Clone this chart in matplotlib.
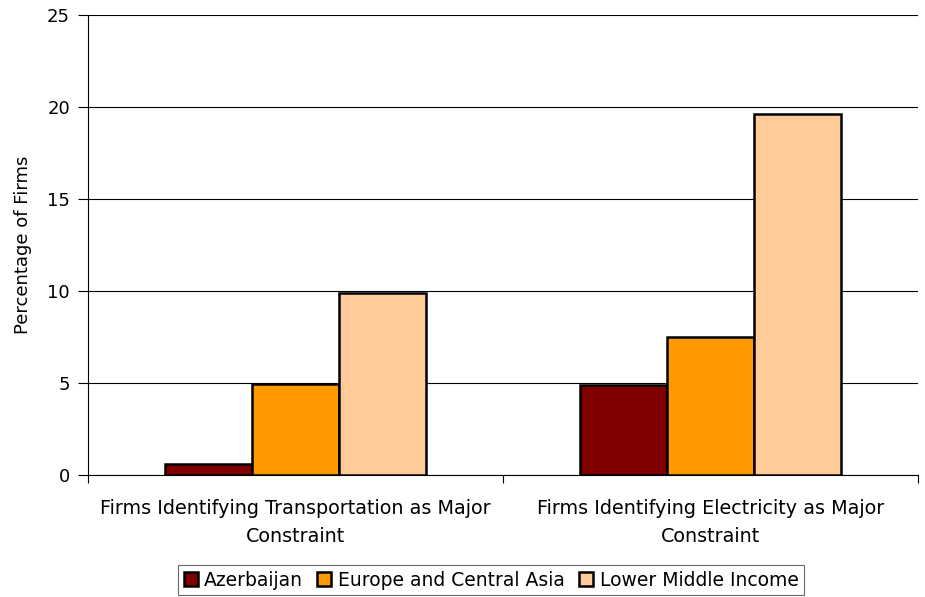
import matplotlib
matplotlib.use("Agg")
import matplotlib.pyplot as plt
import numpy as np

categories = ["Firms Identifying Transportation as Major\nConstraint",
              "Firms Identifying Electricity as Major\nConstraint"]
series = ["Azerbaijan", "Europe and Central Asia", "Lower Middle Income"]
values = {
    "Azerbaijan": [0.6, 4.9],
    "Europe and Central Asia": [4.95, 7.5],
    "Lower Middle Income": [9.9, 19.6],
}
colors = ["#800000", "#FF9900", "#FFCC99"]
yticks = [0, 5, 10, 15, 20, 25]

plt.rcParams['font.family'] = ['DejaVu Sans']

fig = plt.figure(figsize=(9.25, 5.97), dpi=100)
ax = fig.add_axes([88 / 925, 1 - 475 / 597, 830 / 925, 460 / 597])

x = np.arange(len(categories))
width = 0.21
for i, (name, color) in enumerate(zip(series, colors)):
    ax.bar(x + (i - 1) * width, values[name], width, color=color,
           edgecolor="black", linewidth=1.8, label=name, zorder=3)

ax.set_xlim(-0.5, 1.5)
ax.set_ylim(0, 25)
ax.set_yticks(yticks)
ax.tick_params(axis="y", labelsize=13, length=7, pad=6, direction="out", width=0.8)
ax.grid(axis="y", color="black", linewidth=0.8, zorder=0)

ax.set_xticks([-0.5, 0.5, 1.5])
ax.set_xticklabels([])
ax.set_xticks(x, minor=True)
ax.set_xticklabels(categories, minor=True, fontsize=13.8, linespacing=1.65)
ax.tick_params(axis="x", which="major", length=6, width=0.8)
ax.tick_params(axis="x", which="minor", length=0, pad=17)

for s in ["top", "right"]:
    ax.spines[s].set_visible(False)
ax.spines["left"].set_linewidth(0.8)
ax.spines["bottom"].set_linewidth(0.8)

ax.set_ylabel("Percentage of Firms", fontsize=13)
ax.yaxis.set_label_coords(-0.068, 0.5)

leg = fig.legend(loc="lower center", bbox_to_anchor=(491 / 925, 0.0), ncol=3,
                 fontsize=13.5, frameon=True, fancybox=False, handlelength=0.75,
                 handleheight=0.75, handletextpad=0.35, columnspacing=0.75,
                 borderpad=0.3, borderaxespad=0.1)
leg.get_frame().set_edgecolor("#444444")
leg.get_frame().set_linewidth(0.8)

fig.savefig("out.png", dpi=100)
